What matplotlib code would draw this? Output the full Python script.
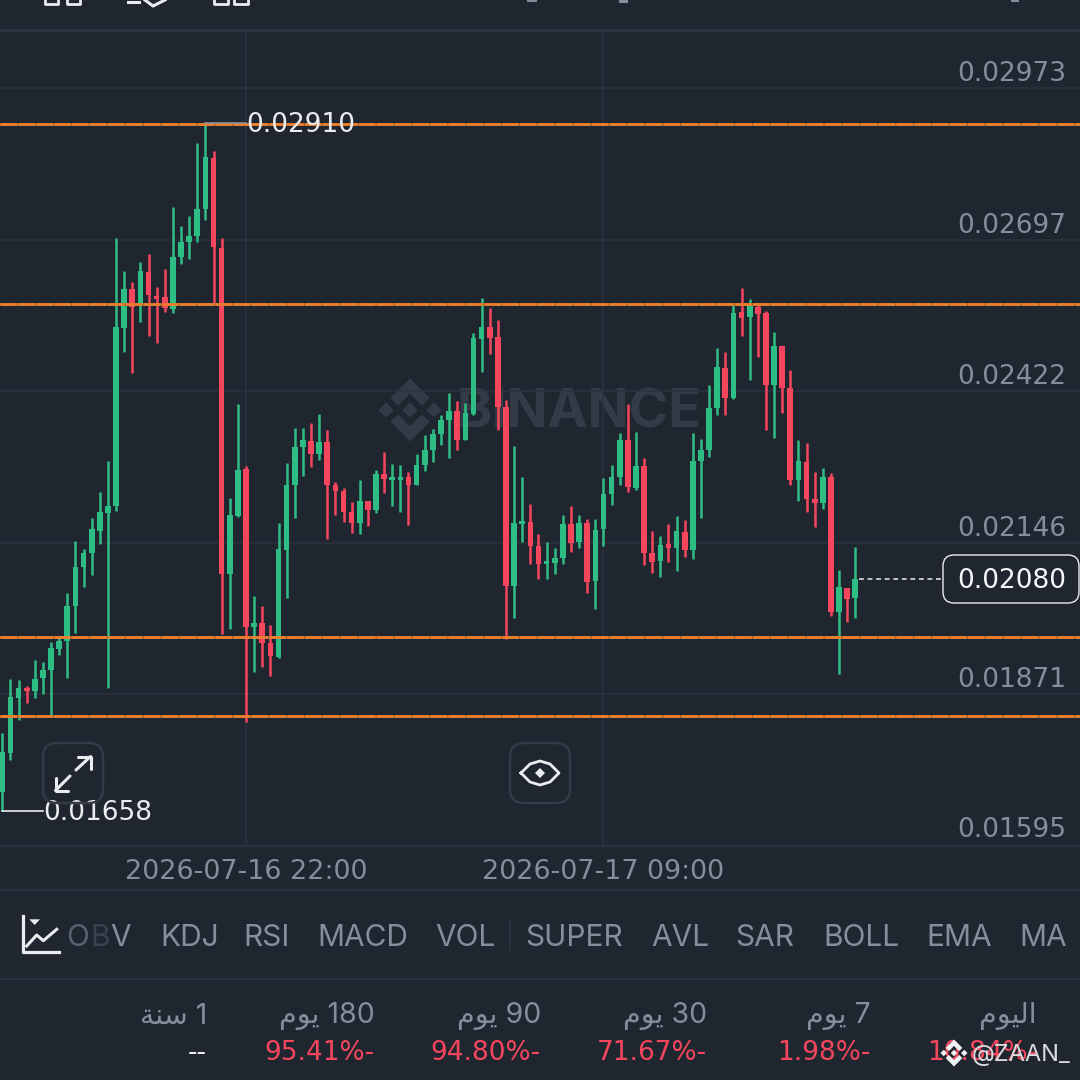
import matplotlib
matplotlib.use("Agg")
import matplotlib.pyplot as plt
from matplotlib.patches import FancyBboxPatch, Polygon
import numpy as np

# ---- candle values, 15 min bars ----
opens = [
    0.016937, 0.017646, 0.018646, 0.018817, 0.018768, 0.018998, 0.019150, 0.019537, 0.019671, 0.020313,
    0.021027, 0.021282, 0.021682, 0.022009, 0.022131, 0.025372, 0.026070, 0.025803, 0.026380, 0.025949,
    0.025931, 0.025712, 0.026652, 0.026925, 0.027045, 0.027530, 0.028458, 0.026827, 0.020889, 0.021949,
    0.022798, 0.019926, 0.019998, 0.019635, 0.019391, 0.021326, 0.022513, 0.023209, 0.023318, 0.023071,
    0.023294, 0.022513, 0.022398, 0.022022, 0.021816, 0.022227, 0.022064, 0.022713, 0.022609, 0.022609,
    0.022658, 0.022507, 0.022871, 0.023144, 0.023445, 0.023694, 0.023864, 0.023336, 0.023809, 0.025172,
    0.025385, 0.025203, 0.023936, 0.020671, 0.021804, 0.021835, 0.021398, 0.021082, 0.021100, 0.021191,
    0.021798, 0.021471, 0.021822, 0.020762, 0.021718, 0.022355, 0.022664, 0.023331, 0.022453, 0.022858,
    0.021282, 0.021131, 0.021435, 0.021367, 0.021664, 0.021336, 0.022949, 0.023144, 0.023907, 0.024645,
    0.024094, 0.025658, 0.025567, 0.025754, 0.025645, 0.024325, 0.025045, 0.024271, 0.022609, 0.022936,
    0.022253, 0.022180, 0.022658, 0.020204, 0.020635, 0.020453,
]
highs = [
    0.018010, 0.018986, 0.018968, 0.018864, 0.019337, 0.019300, 0.019653, 0.019731, 0.020544, 0.021500,
    0.021349, 0.021907, 0.022391, 0.022955, 0.027009, 0.026403, 0.026203, 0.026561, 0.026718, 0.026107,
    0.026445, 0.027567, 0.027227, 0.027398, 0.028725, 0.029100, 0.028585, 0.027009, 0.022271, 0.023980,
    0.022858, 0.020500, 0.020313, 0.019962, 0.021816, 0.022913, 0.023555, 0.023543, 0.023634, 0.023798,
    0.023507, 0.022562, 0.022453, 0.022198, 0.022598, 0.022227, 0.022791, 0.023107, 0.022894, 0.022876,
    0.022749, 0.023082, 0.023422, 0.023525, 0.023780, 0.024185, 0.024040, 0.023998, 0.025270, 0.025907,
    0.025731, 0.025512, 0.024058, 0.023216, 0.022658, 0.022173, 0.021622, 0.021476, 0.021362, 0.021973,
    0.022131, 0.021973, 0.021895, 0.021895, 0.022634, 0.022871, 0.023458, 0.023991, 0.023482, 0.022998,
    0.021676, 0.021580, 0.021804, 0.021949, 0.021882, 0.023464, 0.023344, 0.024325, 0.024998, 0.024936,
    0.025785, 0.026089, 0.025889, 0.025785, 0.025681, 0.025294, 0.025045, 0.024598, 0.023331, 0.023271,
    0.022754, 0.022822, 0.022736, 0.020962, 0.020635, 0.021386,
]
lows = [
    0.016580, 0.017513, 0.018240, 0.018555, 0.018635, 0.018713, 0.018300, 0.019422, 0.018998, 0.019828,
    0.020653, 0.020871, 0.021440, 0.018817, 0.022045, 0.024925, 0.024543, 0.025482, 0.025222, 0.025100,
    0.025658, 0.025645, 0.026530, 0.026621, 0.026925, 0.027330, 0.025803, 0.019804, 0.019900, 0.021930,
    0.018199, 0.019118, 0.019198, 0.019040, 0.019362, 0.020453, 0.021918, 0.022682, 0.022834, 0.022967,
    0.021526, 0.021962, 0.021840, 0.021635, 0.021627, 0.021773, 0.021998, 0.022367, 0.022136, 0.022016,
    0.021785, 0.022507, 0.022767, 0.022936, 0.023234, 0.023009, 0.023154, 0.023325, 0.023791, 0.024562,
    0.024889, 0.023518, 0.019708, 0.020100, 0.021476, 0.021071, 0.020809, 0.020809, 0.020900, 0.021071,
    0.021295, 0.021362, 0.020555, 0.020264, 0.021404, 0.022144, 0.022513, 0.022385, 0.022427, 0.021058,
    0.020907, 0.020835, 0.021113, 0.020955, 0.021204, 0.021173, 0.021918, 0.023016, 0.023785, 0.023791,
    0.024085, 0.025227, 0.024422, 0.024845, 0.023518, 0.023373, 0.023816, 0.022518, 0.022227, 0.022016,
    0.021744, 0.022082, 0.020137, 0.019071, 0.020027, 0.020100,
]
closes = [
    0.017659, 0.018653, 0.018828, 0.018768, 0.018980, 0.019150, 0.019544, 0.019671, 0.020313, 0.021027,
    0.021282, 0.021707, 0.022016, 0.022131, 0.025380, 0.026070, 0.025754, 0.026398, 0.025967, 0.025894,
    0.025736, 0.026658, 0.026925, 0.027040, 0.027530, 0.028470, 0.026840, 0.020889, 0.021967, 0.022785,
    0.019937, 0.019998, 0.019646, 0.019404, 0.021344, 0.022513, 0.023204, 0.023325, 0.023076, 0.023300,
    0.022513, 0.022404, 0.022022, 0.021816, 0.022222, 0.022064, 0.022707, 0.022622, 0.022658, 0.022658,
    0.022507, 0.022871, 0.023144, 0.023440, 0.023694, 0.023864, 0.023336, 0.023822, 0.025185, 0.025385,
    0.025191, 0.023931, 0.020671, 0.021816, 0.021853, 0.021398, 0.021082, 0.021131, 0.021191, 0.021804,
    0.021464, 0.021816, 0.020749, 0.021700, 0.022349, 0.022653, 0.023325, 0.022471, 0.022858, 0.021271,
    0.021118, 0.021427, 0.021367, 0.021682, 0.021326, 0.022955, 0.023144, 0.023913, 0.024652, 0.024089,
    0.025645, 0.025554, 0.025767, 0.025627, 0.024325, 0.025040, 0.024271, 0.022604, 0.022944, 0.022253,
    0.022191, 0.022658, 0.020204, 0.020658, 0.020446, 0.020800,
]

price_ticks = [0.02973, 0.02697, 0.02422, 0.02146, 0.01871, 0.01595]
price_labels = ["0.02973", "0.02697", "0.02422", "0.02146", "0.01871", "0.01595"]
level_lines = [0.029085, 0.025803, 0.019749, 0.018319]
time_ticks = [30, 74]
time_labels = ["2026-07-16 22:00", "2026-07-17 09:00"]
high_value = 0.02910
low_value = 0.01658
last_value = 0.02080

# Arabic has to go in as presentation forms in visual order, matplotlib does no shaping
YAWM = "\ufee1\ufeee\ufef3"
SANA = "\ufe94\ufee8\ufeb3"
TODAY = "\ufee1\ufeee\ufef4\ufedf\ufe8d"
period_labels = [SANA + " 1", YAWM + " 180", YAWM + " 90", YAWM + " 30", YAWM + " 7", TODAY]
period_values = ["--", "95.41%-", "94.80%-", "71.67%-", "1.98%-", "10.84%-"]
period_right = [207, 375, 541, 707, 871, 1037]

tab_names = ["KDJ", "RSI", "MACD", "VOL", "SUPER", "AVL", "SAR", "BOLL", "EMA", "MA"]
tab_left = [160, 243, 317, 435, 525, 651, 735, 823, 926, 1019]

BG = "#1F2630"
GRID = "#2C333E"
GREEN = "#2EBD85"
RED = "#F6465D"
ORANGE = "#EC7F2E"
GREY = "#848E9C"
WHITE = "#EAECEF"
NUM = "DejaVu Sans"  # wide even digits, close to the app's number font
NUM_SIZE = 19

plt.rcParams["font.family"] = ["Inter", "DejaVu Sans"]

fig = plt.figure(figsize=(10.8, 10.8), dpi=100, facecolor=BG)


def add_logo(axis, cx, cy, r, color, z):
    chevron = np.array([[0, 1], [0.62, 0.38], [0.38, 0.14], [0, 0.52], [-0.38, 0.14], [-0.62, 0.38]])
    diamond = np.array([[0, 0.24], [0.24, 0], [0, -0.24], [-0.24, 0]])
    for pts in [chevron, chevron * [1, -1], diamond, diamond + [0.76, 0], diamond + [-0.76, 0]]:
        axis.add_patch(Polygon(pts * r + [cx, cy], closed=True, fc=color, ec="none", zorder=z))


# back layer: watermark sits under the candles
back = fig.add_axes([0, 0, 1, 1], zorder=0)
back.set_xlim(0, 1080)
back.set_ylim(1080, 0)
back.axis("off")
add_logo(back, 410, 410, 31.5, "#343B46", 1)
back.text(456, 414, "BINANCE", color="#343B46", fontsize=38.7, fontweight="bold", va="center", ha="left")

# ---- chart area ----
ax = fig.add_axes([0, (1080 - 846) / 1080, 1, (846 - 29.5) / 1080], zorder=1)
ax.patch.set_alpha(0)
ax.set_xlim(-2.3 / 8.124, (1080 - 2.3) / 8.124)
ax.set_ylim(0.01595, 0.030794)
for s in ax.spines.values():
    s.set_visible(False)

idx = np.arange(len(opens))
o = np.array(opens)
c = np.array(closes)
colors = [GREEN if c[i] >= o[i] else RED for i in idx]

ax.set_yticks(price_ticks)
ax.set_xticks(time_ticks)
ax.set_yticklabels([])
ax.set_xticklabels([])
ax.tick_params(length=0)
ax.grid(True, color=GRID, lw=1.1, zorder=0)
ax.set_axisbelow(True)

ax.vlines(idx, lows, highs, colors=colors, lw=1.8, zorder=3)
ax.bar(idx, np.abs(c - o), bottom=np.minimum(o, c), width=0.7, color=colors, zorder=4)

for lvl in level_lines:
    ax.axhline(lvl, color="#A9642F", lw=2.0, zorder=5)
    ax.axhline(lvl, color=ORANGE, lw=2.0, ls=(0, (6.0, 0.45)), zorder=5)

# price scale labels sit just above their grid line
for p, lab in zip(price_ticks, price_labels):
    off = 16 if p == price_ticks[-1] else 14
    ax.annotate(lab, (1066, p), xycoords=("figure pixels", "data"), xytext=(0, off * 0.72),
                textcoords="offset points", ha="right", va="center", color=GREY,
                fontsize=NUM_SIZE, family=NUM, zorder=6)

# high / low / last markers
hi_i = int(np.argmax(highs))
lo_i = int(np.argmin(lows))
ax.plot([hi_i, hi_i + 5], [high_value, high_value], color="#8E949C", lw=1.2, zorder=6)
ax.annotate("0.02910", (hi_i + 5, high_value), xytext=(0, -1.4), textcoords="offset points", color=WHITE,
            fontsize=NUM_SIZE, family=NUM, va="center", ha="left", zorder=7)
ax.plot([lo_i, lo_i + 5], [low_value, low_value], color=WHITE, lw=1.2, zorder=6)
ax.annotate("0.01658", (lo_i + 5, low_value), xytext=(0, -1.4), textcoords="offset points", color=WHITE,
            fontsize=NUM_SIZE, family=NUM, va="center", ha="left", zorder=7)
ax.plot([idx[-1] + 0.4, idx[-1] + 10.6], [last_value, last_value], color=WHITE, lw=1.1, ls=(0, (3.2, 2.4)), zorder=6)

# ---- everything else in pixel coordinates ----
ov = fig.add_axes([0, 0, 1, 1], zorder=2)
ov.patch.set_alpha(0)
ov.set_xlim(0, 1080)
ov.set_ylim(1080, 0)
ov.axis("off")

ov.plot([0, 1080], [29.5, 29.5], color=GRID, lw=2.2)
ov.plot([0, 1080], [846, 846], color=GRID, lw=1.6)
ov.plot([0, 1080], [890, 890], color=GRID, lw=1.3)
ov.plot([0, 1080], [979, 979], color=GRID, lw=1.3)

# last price box
ov.add_patch(FancyBboxPatch((949, 561), 124, 36, boxstyle="round,pad=6,rounding_size=11",
                            fc=BG, ec=WHITE, lw=1.0, zorder=3))
ov.text(1066, 581, "0.02080", color="#F5F6F7", fontsize=NUM_SIZE, family=NUM, ha="right", va="center", zorder=4)

# time labels
for t, lab in zip(time_ticks, time_labels):
    px = 2.3 + 8.124 * t
    ov.text(px, 872, lab, color=GREY, fontsize=19.4, family=NUM, ha="center", va="center")

# the two round buttons
for bx in [49, 516]:
    ov.add_patch(FancyBboxPatch((bx, 749), 48, 48, boxstyle="round,pad=6,rounding_size=14",
                                fc="none", ec="#343B46", lw=1.8, zorder=3))

# expand arrows
ov.plot([76, 90.5], [770, 756.5], color=WHITE, lw=2.2, solid_capstyle="round")
ov.plot([78, 90.5, 90.5], [756.5, 756.5, 769], color=WHITE, lw=2.2, solid_capstyle="round")
ov.plot([70, 55.5], [776, 790.5], color=WHITE, lw=2.2, solid_capstyle="round")
ov.plot([55.5, 55.5, 68], [778, 790.5, 790.5], color=WHITE, lw=2.2, solid_capstyle="round")

# eye
eye_x = [521, 530, 540, 550, 559, 550, 540, 530, 521]
eye_y = [773, 764, 761, 764, 773, 782, 785, 782, 773]
ov.plot(eye_x, eye_y, color=WHITE, lw=2.0, solid_joinstyle="round")
ov.add_patch(Polygon([[540, 768], [545, 773], [540, 778], [535, 773]], closed=True, fc=WHITE, ec="none"))

# cut off toolbar icons at the very top
for xs in [[45, 45, 58, 58], [67, 67, 80, 80], [214, 214, 228, 228], [234, 234, 248, 248]]:
    ov.plot(xs, [0, 4, 4, 0], color=WHITE, lw=2.0)
ov.plot([128, 139], [1.5, 1.5], color=WHITE, lw=2.2)
ov.plot([145, 153, 165], [0, 6, 0], color=WHITE, lw=2.2)
ov.plot([528, 536], [0.5, 0.5], color=GREY, lw=1.4)
ov.plot([620, 626], [1, 1], color=GREY, lw=2.2)
ov.plot([1012, 1018], [0.5, 0.5], color=GREY, lw=1.4)

# indicator tab row
ov.plot([22.7, 22.7, 58.7], [916, 951.7, 951.7], color=WHITE, lw=2.3, solid_joinstyle="round")
ov.plot([26.7, 36.7, 43.3, 56.7], [946, 935, 940.7, 929.3], color=WHITE, lw=2.2, solid_joinstyle="round")
ov.add_patch(Polygon([[29.3, 919.3], [40, 919.3], [34.7, 925]], closed=True, fc=WHITE, ec="none"))

ov.text(66, 938, "O", color="#596270", fontsize=21.5, ha="left", va="center")
ov.text(90, 938, "B", color="#3B424E", fontsize=21.5, ha="left", va="center")
ov.text(110, 938, "V", color=GREY, fontsize=21.5, ha="left", va="center")
for name, left in zip(tab_names, tab_left):
    ov.text(left, 938, name, color=GREY, fontsize=21.5, ha="left", va="center")
ov.plot([510, 510], [920, 950], color=GRID, lw=1.2)

# change table at the bottom
for lab, val, right in zip(period_labels, period_values, period_right):
    ov.text(right, 1016, lab, color=GREY, fontsize=20.5, ha="right", va="center")
    val_col = WHITE if val == "--" else RED
    ov.text(right, 1053, val, color=val_col, fontsize=NUM_SIZE, family=NUM, ha="right", va="center")

# share watermark
add_logo(ov, 954, 1053, 13.5, "#F0F1F2", 5)
ov.text(972, 1055, "@ZAAN_", color="#DADCE0", fontsize=17, ha="left", va="center", zorder=5)

fig.savefig("out.png", dpi=100, facecolor=BG)
